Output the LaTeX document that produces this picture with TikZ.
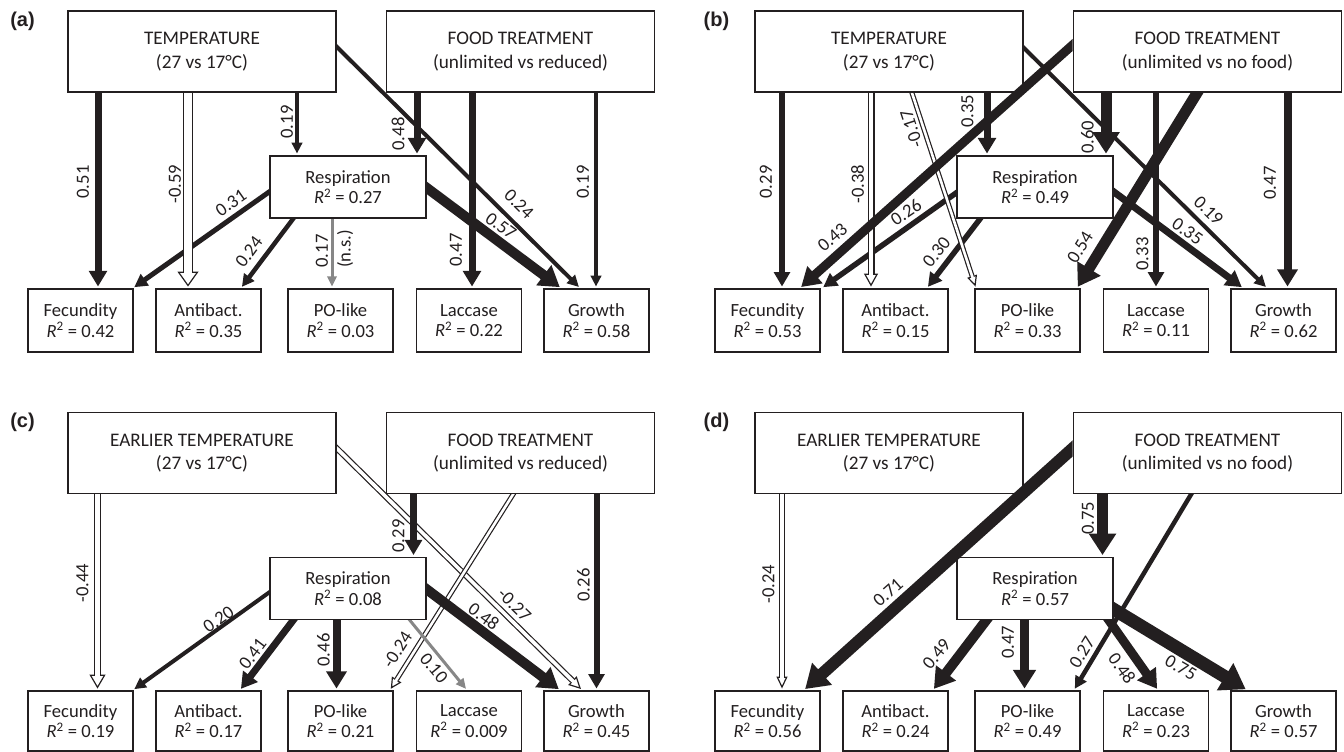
\documentclass[tikz,border=0pt]{standalone}
\usepackage{fontspec}
\setmainfont{Carlito}
\newfontfamily\lblfont{Liberation Sans}
\usetikzlibrary{arrows.meta,calc}
\pgfdeclarelayer{bg}
\pgfdeclarelayer{fg}
\pgfsetlayers{bg,main,fg}
\definecolor{ink}{RGB}{35,31,32}
\definecolor{nsgrey}{RGB}{135,135,135}
\newcommand{\Rsq}[1]{\textit{R}\textsuperscript{2} = #1}
% hollow arrow: from, to, outer shaft width, head width, head length
\newcommand{\hollow}[5]{%
  \draw[ink, line width=1.2pt, shorten <=-6pt, shorten >=1.5pt, -{Triangle[open, fill=white, length=#5, width=#4]}] (#1) -- (#2);
  \draw[ink, line width=#3, shorten <=-6pt, shorten >=#5+1.5pt] (#1) -- (#2);
  \draw[white, line width=#3-2.4pt, shorten <=-6pt, shorten >=#5-0.5pt] (#1) -- (#2);
}
\tikzset{
  box/.style={draw=ink, line width=1.9pt, fill=white, align=center, inner sep=0pt, text=ink},
  bigbox/.style={box, minimum width=268pt, minimum height=81pt, font=\fontsize{19.2}{23.5}\selectfont},
  resbox/.style={box, minimum width=156pt, minimum height=62pt, font=\fontsize{18.6}{20.5}\selectfont},
  outbox/.style={box, minimum width=105pt, minimum height=63pt, font=\fontsize{18.6}{20.5}\selectfont},
  lbl/.style={font=\fontsize{18.6}{20}\selectfont, inner sep=0pt, text=ink},
  panel/.style={font=\lblfont\bfseries\fontsize{20}{22}\selectfont, inner sep=0pt, text=ink},
  pa/.style={draw=ink, line width=#1, -{Triangle[length=6pt 1.4, width=3pt 2.1]}, shorten >=1.5pt, shorten <=-6pt},
  ga/.style={draw=nsgrey, line width=#1, -{Triangle[length=6pt 1.4, width=3pt 2.1]}, shorten >=1.5pt, shorten <=-6pt},
}
\begin{document}
\begin{tikzpicture}[x=1pt,y=-1pt]
\useasboundingbox (0,0) rectangle (1344,752);

% ================= panel (a)
\begin{scope}
\node[panel] (pla) at (22.5,21) {(a)};
\node[bigbox] (aT) at (202,51.5) {TEMPERATURE\\(27 vs 17°C)};
\node[bigbox] (aF) at (520.5,51.5) {FOOD TREATMENT\\(unlimited vs reduced)};
\node[resbox] (aR) at (348,187) {Respiration\\\Rsq{0.27}};
\node[outbox] (aFe) at (80.5,320.5) {Fecundity\\\Rsq{0.42}};
\node[outbox] (aAn) at (208.5,320.5) {Antibact.\\\Rsq{0.35}};
\node[outbox] (aPO) at (340.5,320.5) {PO-like\\\Rsq{0.03}};
\node[outbox] (aLa) at (469,320.5) {Laccase\\\Rsq{0.22}};
\node[outbox] (aGr) at (596.5,320.5) {Growth\\\Rsq{0.58}};
\begin{pgfonlayer}{bg}
\draw[pa=7pt] (aT.south -| 98,0) -- (aFe.north -| 98,0);
\draw[pa=3.5pt] (aT.south -| 297,0) -- (aR.north -| 297,0);
\draw[pa=4pt] (aT.east |- 0,47) -- (aGr.north -| 580,0);
\draw[pa=7pt] (aF.south -| 417,0) -- (aR.north -| 417,0);
\draw[pa=7pt] (aF.south -| 472,0) -- (aLa.north -| 472,0);
\draw[pa=3.5pt] (aF.south -| 596,0) -- (aGr.north -| 596,0);
\draw[pa=5pt] (aR.west |- 0,192) -- (aFe.north -| 133,0);
\draw[pa=4.5pt] (aR.south -| 293,0) -- (aAn.north -| 241,0);
\draw[ga=3pt] (aR.south -| 332,0) -- (aPO.north -| 332,0);
\draw[pa=10pt] (aR.east |- 0,188) -- (aGr.north -| 561,0);
\hollow{aT.south -| 188,0}{aAn.north -| 188,0}{10pt}{21pt}{15pt}
\end{pgfonlayer}
\node[lbl, rotate=90] (al1) at (83,182) {0.51};
\node[lbl, rotate=90] (al2) at (175,184) {-0.59};
\node[lbl, rotate=90] (al3) at (287,122) {0.19};
\node[lbl, rotate=90] (al4) at (398,134) {0.48};
\node[lbl, rotate=90] (al5) at (583,182) {0.19};
\node[lbl, rotate=90] (al6) at (456,250) {0.47};
\node[lbl, rotate=35] (al7) at (231,203) {0.31};
\node[lbl, rotate=53.4] (al8) at (249,252) {0.24};
\node[lbl, rotate=90] (al9) at (322,251) {0.17};
\node[lbl, rotate=90] (al10) at (345,249) {(n.s.)};
\node[lbl, rotate=-44.6] (al11) at (519,204) {0.24};
\node[lbl, rotate=-36.3] (al12) at (501,226) {0.57};
\end{scope}

% ================= panel (b)
\begin{scope}[shift={(687,0)}]
\node[panel] (plb) at (29.5,21) {(b)};
\node[bigbox] (bT) at (202,51.5) {TEMPERATURE\\(27 vs 17°C)};
\node[bigbox] (bF) at (520.5,51.5) {FOOD TREATMENT\\(unlimited vs no food)};
\node[resbox] (bR) at (348,187) {Respiration\\\Rsq{0.49}};
\node[outbox] (bFe) at (80.5,320.5) {Fecundity\\\Rsq{0.53}};
\node[outbox] (bAn) at (208.5,320.5) {Antibact.\\\Rsq{0.15}};
\node[outbox] (bPO) at (340.5,320.5) {PO-like\\\Rsq{0.33}};
\node[outbox] (bLa) at (469,320.5) {Laccase\\\Rsq{0.11}};
\node[outbox] (bGr) at (596.5,320.5) {Growth\\\Rsq{0.62}};
\begin{pgfonlayer}{bg}
\draw[pa=6pt] (bT.south -| 95,0) -- (bFe.north -| 95,0);
\draw[pa=7pt] (bT.south -| 300,0) -- (bR.north -| 300,0);
\draw[pa=4pt] (bT.east |- 0,48) -- (bGr.north -| 580,0);
\draw[pa=11pt] (bF.south -| 419,0) -- (bR.north -| 419,0);
\draw[pa=6pt] (bF.south -| 469,0) -- (bLa.north -| 469,0);
\draw[pa=11pt] (bF.south -| 510,0) -- (bPO.north -| 390,0);
\draw[pa=8pt] (bF.south -| 600.5,0) -- (bGr.north -| 600.5,0);
\draw[pa=5.5pt] (bR.west |- 0,193) -- (bFe.north -| 135,0);
\draw[pa=5.5pt] (bR.south -| 293,0) -- (bAn.north -| 240,0);
\draw[pa=7pt] (bR.east |- 0,192) -- (bGr.north -| 556,0);
\hollow{bT.south -| 184,0}{bAn.north -| 184,0}{7pt}{14pt}{13pt}
\hollow{bT.south -| 225,0}{bPO.north -| 289,0}{5pt}{10pt}{11pt}
\end{pgfonlayer}
\begin{pgfonlayer}{fg}
\begin{scope}
\clip (0,0) rectangle (bF.west |- 0,400);
\draw[pa=9pt] (bF.west |- 0,45) -- (bFe.north -| 113,0);
\end{scope}
\end{pgfonlayer}
\node[lbl, rotate=90] (bl1) at (79,182) {0.29};
\node[lbl, rotate=90] (bl2) at (170.5,184) {-0.38};
\node[lbl, rotate=108.2] (bl3) at (224.5,128.5) {-0.17};
\node[lbl, rotate=90] (bl4) at (280.5,111.5) {0.35};
\node[lbl, rotate=-44.6] (bl5) at (521.5,210.5) {0.19};
\node[lbl, rotate=90] (bl6) at (400.5,137.5) {0.60};
\node[lbl, rotate=90] (bl7) at (455.5,254) {0.33};
\node[lbl, rotate=58.4] (bl8) at (393,247.5) {0.54};
\node[lbl, rotate=90] (bl9) at (583,183) {0.47};
\node[lbl, rotate=41.3] (bl10) at (145.5,237.5) {0.43};
\node[lbl, rotate=34.1] (bl11) at (219,212.5) {0.26};
\node[lbl, rotate=51.7] (bl12) at (249.5,252) {0.30};
\node[lbl, rotate=-35.6] (bl13) at (500.5,231.5) {0.35};
\end{scope}

% ================= panel (c)
\begin{scope}[shift={(0,401.5)}]
\node[panel] (plc) at (22.5,21) {(c)};
\node[bigbox] (cT) at (202,51.5) {EARLIER TEMPERATURE\\(27 vs 17°C)};
\node[bigbox] (cF) at (520.5,51.5) {FOOD TREATMENT\\(unlimited vs reduced)};
\node[resbox] (cR) at (348,187) {Respiration\\\Rsq{0.08}};
\node[outbox, minimum height=60pt] (cFe) at (80.5,319.5) {Fecundity\\\Rsq{0.19}};
\node[outbox, minimum height=60pt] (cAn) at (208.5,319.5) {Antibact.\\\Rsq{0.17}};
\node[outbox, minimum height=60pt] (cPO) at (340.5,319.5) {PO-like\\\Rsq{0.21}};
\node[outbox, minimum height=60pt] (cLa) at (469,319.5) {Laccase\\\Rsq{0.009}};
\node[outbox, minimum height=60pt] (cGr) at (596.5,319.5) {Growth\\\Rsq{0.45}};
\begin{pgfonlayer}{bg}
\hollow{cT.south -| 97.5,0}{cFe.north -| 97.5,0}{7pt}{16pt}{14pt}
\hollow{cT.east |- 0,47}{cGr.north -| 582,0}{6pt}{12pt}{12pt}
\hollow{cF.south -| 513,0}{cPO.north -| 390,0}{5pt}{11pt}{11pt}
\draw[pa=6.5pt] (cF.south -| 413.5,0) -- (cR.north -| 413.5,0);
\draw[pa=6pt] (cF.south -| 596.5,0) -- (cGr.north -| 596.5,0);
\draw[pa=4pt] (cR.west |- 0,191) -- (cFe.north -| 133,0);
\draw[pa=7pt] (cR.south -| 293,0) -- (cAn.north -| 240,0);
\draw[pa=8pt] (cR.south -| 336.5,0) -- (cPO.north -| 336.5,0);
\draw[ga=3pt] (cR.south -| 410,0) -- (cLa.north -| 467,0);
\draw[pa=10pt] (cR.east |- 0,188) -- (cGr.north -| 560,0);
\end{pgfonlayer}
\node[lbl, rotate=90] (cl1) at (82.5,181.5) {-0.44};
\node[lbl, rotate=-44.2] (cl2) at (514.5,203.5) {-0.27};
\node[lbl, rotate=90] (cl3) at (398.5,134.5) {0.29};
\node[lbl, rotate=57.4] (cl4) at (397.5,248) {-0.24};
\node[lbl, rotate=90] (cl5) at (583.5,183.5) {0.26};
\node[lbl, rotate=34.7] (cl6) at (218.5,218) {0.20};
\node[lbl, rotate=52.9] (cl7) at (252.5,252.5) {0.41};
\node[lbl, rotate=90] (cl8) at (323.5,248.5) {0.46};
\node[lbl, rotate=-50.4] (cl9) at (434,266.5) {0.10};
\node[lbl, rotate=-36.2] (cl10) at (484,215) {0.48};
\end{scope}

% ================= panel (d)
\begin{scope}[shift={(687,401.5)}]
\node[panel] (pld) at (29.5,21) {(d)};
\node[bigbox] (dT) at (202,51.5) {EARLIER TEMPERATURE\\(27 vs 17°C)};
\node[bigbox] (dF) at (520.5,51.5) {FOOD TREATMENT\\(unlimited vs no food)};
\node[resbox] (dR) at (348,187) {Respiration\\\Rsq{0.57}};
\node[outbox, minimum height=60pt] (dFe) at (80.5,319.5) {Fecundity\\\Rsq{0.56}};
\node[outbox, minimum height=60pt] (dAn) at (208.5,319.5) {Antibact.\\\Rsq{0.24}};
\node[outbox, minimum height=60pt] (dPO) at (340.5,319.5) {PO-like\\\Rsq{0.49}};
\node[outbox, minimum height=60pt] (dLa) at (469,319.5) {Laccase\\\Rsq{0.23}};
\node[outbox, minimum height=60pt] (dGr) at (596.5,319.5) {Growth\\\Rsq{0.57}};
\begin{pgfonlayer}{bg}
\hollow{dT.south -| 95,0}{dFe.north -| 95,0}{6pt}{11pt}{12pt}
\draw[pa=11pt] (dF.south -| 415.5,0) -- (dR.north -| 415.5,0);
\draw[pa=4.5pt] (dF.south -| 504,0) -- (dPO.north -| 387,0);
\draw[pa=10pt] (dR.south -| 299,0) -- (dAn.north -| 246,0);
\draw[pa=9pt] (dR.south -| 337.5,0) -- (dPO.north -| 337.5,0);
\draw[pa=9pt] (dR.south -| 422,0) -- (dLa.north -| 471,0);
\draw[pa=13pt] (dR.east |- 0,208) -- (dGr.north -| 560,0);
\end{pgfonlayer}
\begin{pgfonlayer}{fg}
\begin{scope}
\clip (0,0) rectangle (dF.west |- 0,400);
\draw[pa=12pt] (dF.west |- 0,47) -- (dFe.north -| 117,0);
\end{scope}
\end{pgfonlayer}
\node[lbl, rotate=90] (dl1) at (81.5,182.5) {-0.24};
\node[lbl, rotate=41.4] (dl2) at (201,191) {0.71};
\node[lbl, rotate=90] (dl3) at (401,117) {0.75};
\node[lbl, rotate=58.6] (dl4) at (395,251) {0.27};
\node[lbl, rotate=50.8] (dl5) at (249.5,252.5) {0.49};
\node[lbl, rotate=90] (dl6) at (321,241) {0.47};
\node[lbl, rotate=-54.2] (dl7) at (435,267) {0.48};
\node[lbl, rotate=-29.9] (dl8) at (494,266) {0.75};
\end{scope}
\end{tikzpicture}
\end{document}
